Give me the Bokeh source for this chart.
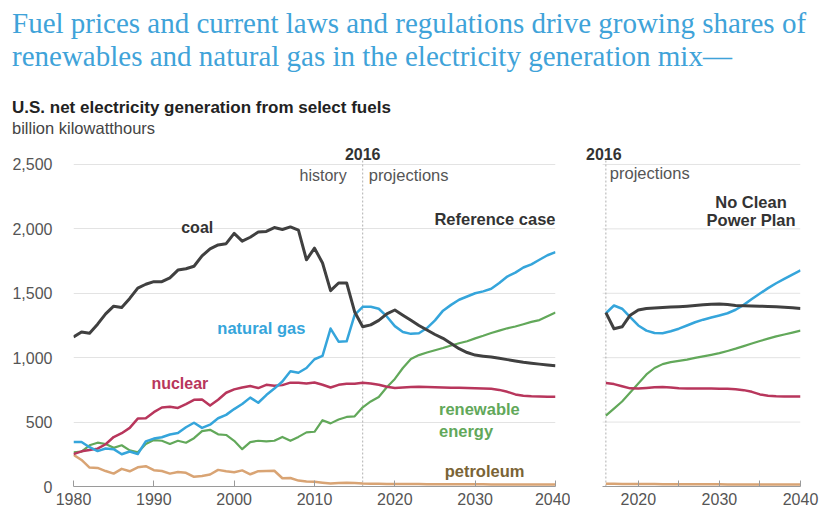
from bokeh.plotting import figure
from bokeh.models import Range1d, FixedTicker, NumeralTickFormatter, Label, Div
from bokeh.layouts import column, row
from bokeh.embed import file_html
from bokeh.resources import INLINE

# ---------------- data ----------------
years = list(range(1980, 2041))
coal = [1160, 1200, 1190, 1260, 1340, 1400, 1390, 1460, 1540, 1570,
        1590, 1590, 1620, 1680, 1690, 1710, 1790, 1845, 1875, 1885,
        1965, 1905, 1935, 1975, 1980, 2010, 1995, 2015, 1990, 1760,
        1850, 1735, 1520, 1580, 1580, 1355, 1240, 1255, 1290, 1340,
        1370, 1330, 1290, 1250, 1215, 1180, 1150, 1110, 1070, 1040,
        1020, 1012, 1005, 995, 985, 975, 965, 957, 950, 944, 938]
natural_gas = [345, 345, 305, 275, 295, 290, 250, 272, 252, 350,
               372, 382, 404, 415, 460, 495, 455, 480, 530, 556,
               601, 640, 690, 650, 710, 760, 815, 895, 883, 920,
               988, 1014, 1226, 1124, 1127, 1333, 1395, 1395, 1380, 1320,
               1245, 1200, 1185, 1190, 1230, 1290, 1365, 1410, 1450, 1475,
               1500, 1515, 1535, 1580, 1630, 1660, 1700, 1725, 1760, 1795, 1820]
nuclear = [251, 273, 283, 294, 328, 384, 414, 455, 527, 529,
           577, 613, 619, 610, 640, 673, 675, 628, 673, 728,
           754, 769, 780, 764, 789, 782, 787, 806, 806, 799,
           807, 790, 769, 789, 797, 797, 805, 800, 790, 775,
           765, 768, 772, 775, 773, 770, 768, 767, 766, 765,
           763, 760, 758, 750, 735, 715, 705, 700, 698, 697, 697]
renewable = [265, 270, 320, 340, 330, 300, 320, 280, 265, 330,
             360, 355, 330, 355, 340, 375, 430, 440, 405, 400,
             355, 290, 345, 355, 350, 355, 385, 355, 385, 420,
             425, 515, 490, 520, 540, 545, 615, 660, 695, 770,
             835, 920, 990, 1020, 1040, 1058, 1075, 1095, 1112, 1128,
             1150, 1170, 1192, 1210, 1228, 1242, 1260, 1278, 1292, 1322, 1350]
petroleum = [246, 206, 147, 144, 120, 100, 137, 118, 149, 158,
             127, 120, 100, 113, 106, 75, 82, 93, 129, 118,
             111, 125, 95, 119, 121, 122, 64, 66, 46, 39,
             37, 30, 23, 27, 30, 28, 24, 22, 21, 20,
             20, 19, 19, 19, 18, 18, 18, 18, 17, 17,
             17, 17, 16, 16, 16, 16, 15, 15, 15, 15, 15]

# No Clean Power Plan case
years_ncpp = list(range(2016, 2041))
coal_ncpp = [1350, 1225, 1240, 1330, 1370, 1382, 1386, 1390, 1393, 1396,
             1400, 1405, 1410, 1415, 1416, 1412, 1406, 1404, 1402, 1400,
             1398, 1395, 1392, 1388, 1382]
gas_ncpp = [1345, 1405, 1380, 1315, 1250, 1210, 1192, 1190, 1205, 1225,
            1250, 1275, 1295, 1312, 1328, 1345, 1372, 1410, 1455, 1498,
            1540, 1578, 1612, 1645, 1678]
nuclear_ncpp = [803, 795, 778, 762, 760, 765, 770, 772, 768, 762,
                760, 760, 760, 760, 758, 758, 755, 748, 735, 715,
                705, 700, 698, 698, 698]
renew_ncpp = [550, 605, 660, 730, 800, 870, 920, 950, 965, 975,
              985, 998, 1010, 1022, 1035, 1052, 1070, 1090, 1110, 1130,
              1148, 1165, 1180, 1195, 1210]
petro_ncpp = [22, 21, 20, 20, 19, 19, 19, 18, 18, 18,
              18, 17, 17, 17, 17, 16, 16, 16, 16, 16,
              15, 15, 15, 15, 15]

proj_start = 2016
y_ticks = [0, 500, 1000, 1500, 2000, 2500]
x_ticks_left = [1980, 1990, 2000, 2010, 2020, 2030, 2040]
x_ticks_right = [2020, 2025, 2030, 2035, 2040]
right_panel_start = 2015.6   # left edge of the right panel's drawn area
right_panel_end = 2040

# ---------------- style ----------------
FONT = "Liberation Sans"
C_COAL = "#404040"
C_GAS = "#35a5db"
C_NUC = "#b8365c"
C_REN = "#62a85a"
C_PET = "#d9a474"
C_PET_TXT = "#7a6436"
GRID = "#e3e3e3"
AX = "#9a9a9a"
TICK_TXT = "#555555"
LBL = "16px"

Y_END = 2686


def base_fig(width, xr, left, right):
    p = figure(width=width, height=376, x_range=xr, y_range=Range1d(0, Y_END),
               output_backend="svg", toolbar_location=None,
               min_border_left=left, min_border_right=right,
               min_border_top=0, min_border_bottom=30)
    p.outline_line_color = None
    p.background_fill_color = "white"
    p.border_fill_color = "white"
    p.xgrid.visible = False
    p.ygrid.ticker = FixedTicker(ticks=y_ticks[1:])
    p.ygrid.grid_line_color = GRID
    p.ygrid.grid_line_width = 1
    p.xaxis.axis_line_color = AX
    p.xaxis.major_tick_line_color = AX
    p.xaxis.major_tick_in = 6
    p.xaxis.major_tick_out = 0
    p.xaxis.minor_tick_line_color = None
    p.xaxis.major_label_text_font = FONT
    p.xaxis.major_label_text_font_size = "16px"
    p.xaxis.major_label_text_color = TICK_TXT
    p.xaxis.major_label_standoff = 6
    return p


def lines(p, xs, series):
    for ys, color, w in series:
        p.line(xs, ys, line_color=color, line_width=w, line_join="round")


def lab(p, x, y, text, color, size=LBL, bold=True, align="left", xoff=0):
    p.add_layout(Label(x=x, y=y, text=text, text_font=FONT, text_font_size=size,
                       text_font_style="bold" if bold else "normal",
                       text_color=color, text_align=align, text_baseline="middle",
                       x_offset=xoff))


# ---------------- left panel ----------------
p1 = base_fig(570, Range1d(1980, 2040), 73, 15)
p1.xaxis.ticker = FixedTicker(ticks=x_ticks_left)
p1.yaxis.ticker = FixedTicker(ticks=y_ticks)
p1.yaxis.formatter = NumeralTickFormatter(format="0,0")
p1.yaxis.axis_line_color = None
p1.yaxis.major_tick_line_color = None
p1.yaxis.minor_tick_line_color = None
p1.yaxis.major_label_text_font = FONT
p1.yaxis.major_label_text_font_size = "16px"
p1.yaxis.major_label_text_color = TICK_TXT
p1.yaxis.major_label_standoff = 15

p1.segment(x0=[proj_start], y0=[0], x1=[proj_start], y1=[2530],
           line_color="#b0b0b0", line_width=1, line_dash="2 2")

lines(p1, years, [(petroleum, C_PET, 2.5), (renewable, C_REN, 2.2),
                  (nuclear, C_NUC, 2.5), (natural_gas, C_GAS, 2.5),
                  (coal, C_COAL, 3)])

lab(p1, proj_start, 2585, "2016", "#333333", size="16px", align="center")
lab(p1, proj_start, 2415, "history", "#555555", bold=False, align="right", xoff=-16)
lab(p1, proj_start, 2415, "projections", "#555555", size="16.5px", bold=False,
    align="left", xoff=6)
lab(p1, 2040, 2073, "Reference case", "#333333", size="16.5px", align="right")
lab(p1, 1995.4, 2011, "coal", "#333333", align="center")
lab(p1, 1997.9, 1227, "natural gas", C_GAS, size="16.5px")
lab(p1, 1989.7, 798, "nuclear", C_NUC)
lab(p1, 2025.5, 605, "renewable", C_REN, size="16.5px")
lab(p1, 2025.5, 434, "energy", C_REN, size="16.5px")
lab(p1, 2026.2, 124, "petroleum", C_PET_TXT, size="16.5px")

# ---------------- right panel ----------------
# frame starts a little left of the drawn panel so that the "2016" label is not clipped
R_LEFT, R_RIGHT, R_W = 2, 20, 250
px_per_year = 8.11
r_start = right_panel_end - (R_W - R_LEFT - R_RIGHT) / px_per_year
p2 = base_fig(R_W, Range1d(r_start, right_panel_end), R_LEFT, R_RIGHT)
p2.xaxis.ticker = FixedTicker(ticks=x_ticks_right)
p2.xaxis.major_label_overrides = {2025: "", 2035: ""}
p2.xaxis.bounds = (right_panel_start, right_panel_end)
p2.yaxis.visible = False
p2.ygrid.visible = False

grid_y = y_ticks[1:]
p2.segment(x0=[right_panel_start] * len(grid_y), y0=grid_y,
           x1=[right_panel_end] * len(grid_y), y1=grid_y,
           line_color=GRID, line_width=1)

p2.segment(x0=[proj_start], y0=[0], x1=[proj_start], y1=[2530],
           line_color="#b0b0b0", line_width=1, line_dash="2 2")

lines(p2, years_ncpp, [(petro_ncpp, C_PET, 2.5), (renew_ncpp, C_REN, 2.2),
                       (nuclear_ncpp, C_NUC, 2.5), (gas_ncpp, C_GAS, 2.5),
                       (coal_ncpp, C_COAL, 3)])

lab(p2, proj_start, 2585, "2016", "#333333", size="16px", align="center", xoff=-2)
lab(p2, proj_start, 2430, "projections", "#555555", size="16.5px", bold=False,
    align="left", xoff=4)
lab(p2, 2033.9, 2210, "No Clean", "#333333", size="16.5px", align="center")
lab(p2, 2033.9, 2070, "Power Plan", "#333333", size="16.5px", align="center")

# ---------------- header ----------------
header_html = (
    '<div style="position:relative;width:820px;height:140px;background:white;">'
    '<div style="position:absolute;left:12px;top:7px;white-space:nowrap;'
    "font-family:'Liberation Serif','Times New Roman',serif;font-size:29px;"
    'line-height:33px;color:#3fa3d9;">'
    'Fuel prices and current laws and regulations drive growing shares of<br>'
    'renewables and natural gas in the electricity generation mix\u2014</div>'
    '<div style="position:absolute;left:12px;top:96px;white-space:nowrap;'
    "font-family:'Liberation Sans',Arial,sans-serif;font-size:17px;font-weight:bold;"
    'color:#222222;">U.S. net electricity generation from select fuels</div>'
    '<div style="position:absolute;left:12px;top:117px;white-space:nowrap;'
    "font-family:'Liberation Sans',Arial,sans-serif;font-size:16.5px;"
    'color:#444444;">billion kilowatthours</div>'
    '</div>'
)
header = Div(text=header_html, width=820, height=140, margin=(0, 0, 0, 0))

layout = column(header, row(p1, p2, spacing=0), spacing=0)
layout.margin = (0, 0, 0, 0)

open("out.html", "w").write(file_html(layout, INLINE))
